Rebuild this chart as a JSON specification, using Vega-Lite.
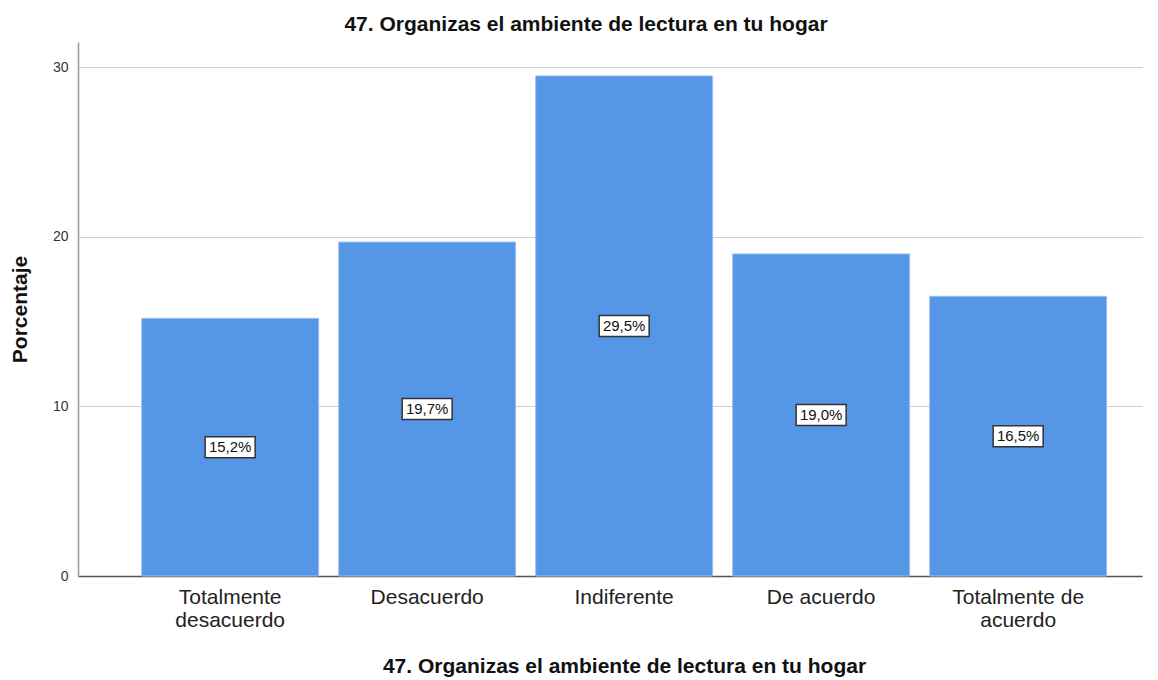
{
  "$schema": "https://vega.github.io/schema/vega-lite/v6.json",
  "autosize": {"type": "none"},
  "width": 1064,
  "height": 534,
  "padding": {"left": 78, "top": 42, "right": 16, "bottom": 104},
  "background": "white",
  "title": {
    "text": "47. Organizas el ambiente de lectura en tu hogar",
    "font": "Liberation Sans",
    "fontSize": 21,
    "fontWeight": "bold",
    "color": "#111",
    "anchor": "middle",
    "dx": -24,
    "offset": 7
  },
  "data": {
    "values": [
      {"categoria": "Totalmente desacuerdo", "pct": 15.2, "etiqueta": "15,2%"},
      {"categoria": "Desacuerdo", "pct": 19.7, "etiqueta": "19,7%"},
      {"categoria": "Indiferente", "pct": 29.5, "etiqueta": "29,5%"},
      {"categoria": "De acuerdo", "pct": 19.0, "etiqueta": "19,0%"},
      {"categoria": "Totalmente de acuerdo", "pct": 16.5, "etiqueta": "16,5%"}
    ]
  },
  "encoding": {
    "x": {
      "field": "categoria",
      "type": "nominal",
      "sort": null,
      "scale": {"paddingInner": 0.1015, "paddingOuter": 0.2513, "align": 0.643},
      "axis": {
        "title": "47. Organizas el ambiente de lectura en tu hogar",
        "titleFont": "Liberation Sans",
        "titleFontSize": 21,
        "titleFontWeight": "bold",
        "titleColor": "#111",
        "titleX": 546,
        "titleY": 96,
        "titleBaseline": "alphabetic",
        "labelAngle": 0,
        "labelFont": "Liberation Sans",
        "labelFontSize": 21,
        "labelColor": "#222",
        "labelPadding": 10,
        "labelLineHeight": 23,
        "labelExpr": "datum.label == 'Totalmente desacuerdo' ? ['Totalmente', 'desacuerdo'] : datum.label == 'Totalmente de acuerdo' ? ['Totalmente de', 'acuerdo'] : datum.label",
        "ticks": false,
        "domainColor": "#555",
        "domainWidth": 1.5,
        "grid": false
      }
    }
  },
  "layer": [
    {
      "mark": {"type": "bar", "color": "#5596E6", "stroke": "#9dc2ef", "strokeWidth": 1},
      "encoding": {
        "y": {
          "field": "pct",
          "type": "quantitative",
          "scale": {"domain": [0, 31.5], "nice": false},
          "axis": {
            "title": "Porcentaje",
            "titleFont": "Liberation Sans",
            "titleFontSize": 21,
            "titleFontWeight": "bold",
            "titleColor": "#111",
            "titleAngle": -90,
            "titleX": -52,
            "titleY": 267,
            "titleAlign": "center",
            "titleBaseline": "alphabetic",
            "values": [0, 10, 20, 30],
            "labelFont": "Liberation Sans",
            "labelFontSize": 14,
            "labelColor": "#333",
            "labelPadding": 10,
            "ticks": false,
            "domainColor": "#999",
            "domainWidth": 1.5,
            "grid": true,
            "gridColor": "#cfcfcf",
            "gridWidth": 1.2
          }
        }
      }
    },
    {
      "transform": [{"calculate": "datum.pct / 2", "as": "mitad"}],
      "mark": {"type": "tick", "orient": "horizontal", "size": 50, "thickness": 21, "color": "white", "stroke": "#333", "strokeWidth": 1.5, "opacity": 1, "filled": true},
      "encoding": {
        "y": {"field": "mitad", "type": "quantitative"}
      }
    },
    {
      "transform": [{"calculate": "datum.pct / 2", "as": "mitad"}],
      "mark": {"type": "text", "font": "Liberation Sans", "fontSize": 15, "color": "#111", "baseline": "middle", "align": "center"},
      "encoding": {
        "y": {"field": "mitad", "type": "quantitative"},
        "text": {"field": "etiqueta"}
      }
    }
  ],
  "config": {"view": {"stroke": null}}
}
